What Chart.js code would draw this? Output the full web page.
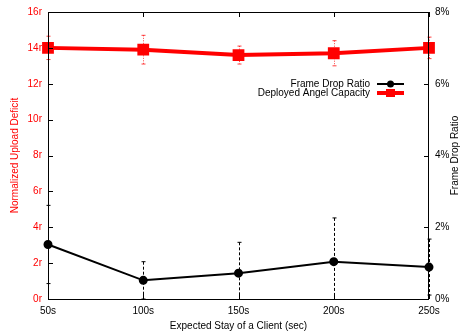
<!DOCTYPE html>
<html><head><meta charset="utf-8">
<script src="https://cdn.jsdelivr.net/npm/chart.js@4/dist/chart.umd.min.js"></script>
<style>html,body{margin:0;padding:0;background:#fff}#wrap{width:461px;height:332px}</style>
</head><body><div id="wrap"><canvas id="c" width="461" height="332"></canvas></div>
<script>
const categories = ['50s','100s','150s','200s','250s'];
const angelCapacity = [14.0, 13.9, 13.6, 13.7, 14.0];
const angelErr = [0.65, 0.8, 0.5, 0.7, 0.6];
const frameDrop = [1.52, 0.52, 0.72, 1.04, 0.89];
const frameDropErr = [1.09, 0.52, 0.86, 1.22, 0.78];
const leftTicks = [0,2,4,6,8,10,12,14,16];
const rightTicks = [0,2,4,6,8];

const FONT = 'Liberation Sans, Arial, sans-serif';
const RED = '#ff0000';

const errPlugin = {
  id: 'errbars',
  beforeDatasetsDraw(chart) {
    const ctx = chart.ctx, x = chart.scales.x, ca = chart.chartArea;
    ctx.save();
    ctx.beginPath(); ctx.rect(ca.left-6, ca.top, ca.right-ca.left+12, ca.bottom-ca.top); ctx.clip();
    const draw = (vals, errs, scale, color, dash, width) => {
      ctx.strokeStyle = color; ctx.lineWidth = width; ctx.setLineDash(dash);
      vals.forEach((v,i) => {
        const px = Math.round(x.getPixelForValue(i))+0.5;
        const y1 = scale.getPixelForValue(v+errs[i]);
        const y2 = scale.getPixelForValue(v-errs[i]);
        ctx.beginPath(); ctx.moveTo(px, y1); ctx.lineTo(px, y2); ctx.stroke();
        ctx.setLineDash([]);
        ctx.beginPath(); ctx.moveTo(px-2, y1); ctx.lineTo(px+2, y1);
        ctx.moveTo(px-2, y2); ctx.lineTo(px+2, y2); ctx.stroke();
        ctx.setLineDash(dash);
      });
    };
    draw(frameDrop, frameDropErr, chart.scales.y1, '#000', [3,2], 1);
    draw(angelCapacity, angelErr, chart.scales.y, 'rgba(255,0,0,0.75)', [1,1.5], 1);
    ctx.restore();
  },
  afterDraw(chart) {
    const ctx = chart.ctx, ca = chart.chartArea;
    ctx.save();
    ctx.strokeStyle = '#000'; ctx.lineWidth = 1; ctx.setLineDash([]);
    ctx.strokeRect(ca.left+0.5, ca.top+0.5, ca.right-ca.left-1, ca.bottom-ca.top);
    const T = 5;
    ctx.beginPath();
    chart.scales.x.ticks.forEach((t,i) => {
      const px = Math.round(chart.scales.x.getPixelForValue(i))+0.5;
      ctx.moveTo(px, ca.bottom); ctx.lineTo(px, ca.bottom-T);
      ctx.moveTo(px, ca.top); ctx.lineTo(px, ca.top+T);
    });
    chart.scales.y.ticks.forEach(t => {
      const py = Math.round(chart.scales.y.getPixelForValue(t.value))+0.5;
      ctx.moveTo(ca.left, py); ctx.lineTo(ca.left+T, py);
    });
    chart.scales.y1.ticks.forEach(t => {
      const py = Math.round(chart.scales.y1.getPixelForValue(t.value))+0.5;
      ctx.moveTo(ca.right, py); ctx.lineTo(ca.right-T, py);
    });
    ctx.stroke();
    // right axis title (reads bottom to top)
    ctx.fillStyle = '#000'; ctx.font = '10px ' + FONT;
    ctx.translate(455, (ca.top+ca.bottom)/2);
    ctx.rotate(-Math.PI/2);
    ctx.textAlign = 'center'; ctx.textBaseline = 'middle';
    ctx.fillText('Frame Drop Ratio', 0, 0);
    ctx.setTransform(1,0,0,1,0,0);
    // legend
    const items = [
      {label:'Frame Drop Ratio', color:'#000', lw:2, shape:'circle', y:84},
      {label:'Deployed Angel Capacity', color:RED, lw:4, shape:'rect', y:93}
    ];
    ctx.font = '10px ' + FONT; ctx.textAlign='right'; ctx.textBaseline='middle';
    items.forEach(it => {
      ctx.fillStyle = '#000';
      ctx.fillText(it.label, 370, it.y);
      ctx.strokeStyle = it.color; ctx.lineWidth = it.lw;
      ctx.beginPath(); ctx.moveTo(377, it.y); ctx.lineTo(404, it.y); ctx.stroke();
      ctx.fillStyle = it.color;
      if (it.shape==='circle') { ctx.beginPath(); ctx.arc(390.5, it.y, 3.5, 0, Math.PI*2); ctx.fill(); }
      else ctx.fillRect(386, it.y-4, 9, 8);
    });
    ctx.restore();
  }
};

new Chart(document.getElementById('c'), {
  type: 'line',
  data: {
    labels: categories,
    datasets: [
      { label:'Frame Drop Ratio', data: frameDrop, yAxisID:'y1', borderColor:'#000', backgroundColor:'#000',
        borderWidth:2, pointRadius:3.5, pointStyle:'circle', tension:0, clip:false },
      { label:'Deployed Angel Capacity', data: angelCapacity, yAxisID:'y', borderColor:RED, backgroundColor:RED,
        borderWidth:4, pointRadius:5.5, pointStyle:'rect', tension:0, clip:false }
    ]
  },
  options: {
    responsive:false, animation:false, devicePixelRatio:1,
    layout:{padding:{top:5, left:9, right:0, bottom:0}},
    plugins:{legend:{display:false}, tooltip:{enabled:false}},
    scales:{
      x:{ type:'category', offset:false, grid:{display:false, drawTicks:false}, border:{display:false},
          ticks:{color:'#000', font:{family:FONT, size:10}, padding:6, maxRotation:0, autoSkip:false},
          title:{display:true, text:'Expected Stay of a Client (sec)', color:'#000', font:{family:FONT, size:10}, padding:{top:2,bottom:0}},
          afterFit(s){ s.height = 33; } },
      y:{ position:'left', min:0, max:16, grid:{display:false, drawTicks:false}, border:{display:false},
          afterBuildTicks(s){ s.ticks = leftTicks.map(v=>({value:v})); },
          ticks:{color:RED, font:{family:FONT, size:10}, padding:6, callback:v=>v+'r'},
          title:{display:true, text:'Normalized Upload Deficit', color:RED, font:{family:FONT, size:10}, padding:{top:0,bottom:4}},
          afterFit(s){ s.width = 39; } },
      y1:{ position:'right', min:0, max:8, grid:{display:false, drawTicks:false}, border:{display:false},
          afterBuildTicks(s){ s.ticks = rightTicks.map(v=>({value:v})); },
          ticks:{color:'#000', font:{family:FONT, size:10}, padding:6, callback:v=>v+'%'},
          afterFit(s){ s.width = 32; } }
    }
  },
  plugins:[errPlugin]
});
</script></body></html>
